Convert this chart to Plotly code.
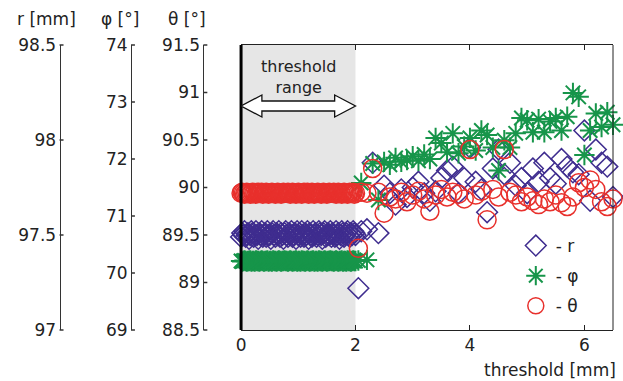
import plotly.graph_objects as go

# ---------------- data ----------------
threshold_range = [0, 2]

thr_band = [0.00, 0.02, 0.04, 0.06, 0.08, 0.10, 0.12, 0.14, 0.16, 0.18,
            0.20, 0.22, 0.24, 0.26, 0.28, 0.30, 0.32, 0.34, 0.36, 0.38,
            0.40, 0.42, 0.44, 0.46, 0.48, 0.50, 0.52, 0.54, 0.56, 0.58,
            0.60, 0.62, 0.64, 0.66, 0.68, 0.70, 0.72, 0.74, 0.76, 0.78,
            0.80, 0.82, 0.84, 0.86, 0.88, 0.90, 0.92, 0.94, 0.96, 0.98,
            1.00, 1.02, 1.04, 1.06, 1.08, 1.10, 1.12, 1.14, 1.16, 1.18,
            1.20, 1.22, 1.24, 1.26, 1.28, 1.30, 1.32, 1.34, 1.36, 1.38,
            1.40, 1.42, 1.44, 1.46, 1.48, 1.50, 1.52, 1.54, 1.56, 1.58,
            1.60, 1.62, 1.64, 1.66, 1.68, 1.70, 1.72, 1.74, 1.76, 1.78,
            1.80, 1.82, 1.84, 1.86, 1.88, 1.90, 1.92, 1.94, 1.96, 1.98, 2.00]
r_band = [97.49, 97.51, 97.50, 97.52, 97.49, 97.50, 97.51, 97.48, 97.50, 97.52,
          97.51, 97.49, 97.50, 97.52, 97.50, 97.48, 97.51, 97.50, 97.52, 97.49,
          97.50, 97.51, 97.49, 97.52, 97.50, 97.50, 97.48, 97.51, 97.52, 97.50,
          97.49, 97.51, 97.50, 97.52, 97.49, 97.51, 97.50, 97.48, 97.51, 97.52,
          97.50, 97.49, 97.51, 97.50, 97.52, 97.49, 97.50, 97.51, 97.48, 97.52,
          97.50, 97.51, 97.49, 97.52, 97.50, 97.49, 97.51, 97.50, 97.52, 97.48,
          97.51, 97.50, 97.49, 97.52, 97.50, 97.51, 97.49, 97.50, 97.52, 97.51,
          97.50, 97.48, 97.51, 97.52, 97.49, 97.50, 97.51, 97.50, 97.52, 97.49,
          97.51, 97.50, 97.49, 97.52, 97.50, 97.51, 97.48, 97.50, 97.52, 97.51,
          97.49, 97.50, 97.51, 97.52, 97.50, 97.49, 97.51, 97.50, 97.52, 97.51, 97.50]
phi_band = [70.21, 70.20, 70.21, 70.22, 70.21, 70.20, 70.21, 70.21, 70.22, 70.20,
            70.21, 70.21, 70.20, 70.22, 70.21, 70.21, 70.20, 70.21, 70.22, 70.21,
            70.20, 70.21, 70.21, 70.22, 70.20, 70.21, 70.21, 70.20, 70.22, 70.21,
            70.21, 70.20, 70.21, 70.22, 70.21, 70.20, 70.21, 70.21, 70.22, 70.21,
            70.21, 70.20, 70.21, 70.22, 70.21, 70.20, 70.21, 70.21, 70.22, 70.20,
            70.21, 70.21, 70.20, 70.22, 70.21, 70.21, 70.20, 70.21, 70.22, 70.21,
            70.20, 70.21, 70.21, 70.22, 70.20, 70.21, 70.21, 70.20, 70.22, 70.21,
            70.21, 70.20, 70.21, 70.22, 70.21, 70.20, 70.21, 70.21, 70.22, 70.21,
            70.21, 70.20, 70.21, 70.22, 70.21, 70.20, 70.21, 70.21, 70.22, 70.20,
            70.21, 70.21, 70.20, 70.22, 70.21, 70.21, 70.20, 70.21, 70.22, 70.21, 70.21]
theta_band = [89.94, 89.95, 89.94, 89.93, 89.94, 89.95, 89.94, 89.94, 89.93, 89.94,
              89.95, 89.94, 89.94, 89.93, 89.94, 89.95, 89.94, 89.94, 89.95, 89.93,
              89.94, 89.94, 89.95, 89.94, 89.93, 89.94, 89.94, 89.95, 89.94, 89.94,
              89.93, 89.94, 89.95, 89.94, 89.94, 89.93, 89.94, 89.95, 89.94, 89.94,
              89.94, 89.95, 89.94, 89.93, 89.94, 89.95, 89.94, 89.94, 89.93, 89.94,
              89.95, 89.94, 89.94, 89.93, 89.94, 89.95, 89.94, 89.94, 89.95, 89.93,
              89.94, 89.94, 89.95, 89.94, 89.93, 89.94, 89.94, 89.95, 89.94, 89.94,
              89.93, 89.94, 89.95, 89.94, 89.94, 89.93, 89.94, 89.95, 89.94, 89.94,
              89.94, 89.95, 89.94, 89.93, 89.94, 89.95, 89.94, 89.94, 89.93, 89.94,
              89.95, 89.94, 89.94, 89.93, 89.94, 89.95, 89.94, 89.94, 89.95, 89.93, 89.94]

thr_after = [2.05, 2.1, 2.2, 2.3, 2.4, 2.5, 2.6, 2.7, 2.8, 2.9,
             3.0, 3.1, 3.2, 3.3, 3.4, 3.5, 3.6, 3.7, 3.8, 3.9,
             4.0, 4.1, 4.2, 4.3, 4.4, 4.5, 4.6, 4.7, 4.8, 4.9,
             5.0, 5.1, 5.2, 5.3, 5.4, 5.5, 5.6, 5.7, 5.8, 5.9,
             6.0, 6.1, 6.2, 6.3, 6.4, 6.5]
r_after = [97.22, 97.52, 97.53, 97.88, 97.51, 97.76, 97.72, 97.66, 97.74, 97.70,
           97.75, 97.78, 97.72, 97.68, 97.73, 97.80, 97.84, 97.86, 97.72, 97.80,
           97.96, 97.78, 97.74, 97.62, 97.85, 97.95, 97.82, 97.88, 97.76, 97.80,
           97.72, 97.85, 97.78, 97.88, 97.80, 97.77, 97.90, 97.86, 97.83, 97.82,
           98.05, 97.68, 97.95, 97.88, 97.86, 97.70]
phi_after = [70.22, 71.58, 70.23, 71.92, 71.28, 71.95, 71.90, 72.02, 71.95, 71.98,
             72.05, 71.97, 72.08, 72.00, 72.37, 72.28, 72.12, 72.45, 72.10, 72.22,
             72.37, 72.15, 72.50, 72.42, 72.20, 71.80, 72.33, 72.20, 72.45, 72.72,
             72.68, 72.47, 72.70, 72.47, 72.66, 72.72, 72.50, 72.74, 73.16, 73.09,
             72.07, 72.50, 72.80, 72.56, 72.82, 72.60]
theta_after = [89.36, 89.95, 89.94, 90.20, 89.95, 89.73, 89.90, 89.88, 89.95, 89.85,
               89.92, 89.96, 89.88, 89.75, 89.92, 89.98, 89.90, 89.95, 89.93, 89.88,
               90.40, 89.92, 89.96, 89.66, 89.98, 89.90, 90.40, 89.95, 89.92, 89.85,
               89.90, 89.86, 89.82, 89.88, 89.85, 89.92, 89.84, 89.80, 89.90, 90.05,
               90.00, 90.08, 89.98, 89.85, 89.80, 89.88]

r_range = [97, 98.5]
phi_range = [69, 74]
theta_range = [88.5, 91.5]
r_ticks = [97, 97.5, 98, 98.5]
phi_ticks = [69, 70, 71, 72, 73, 74]
theta_ticks = [88.5, 89, 89.5, 90, 90.5, 91, 91.5]
x_range = [0, 6.5]
x_ticks = [0, 2, 4, 6]

# ---------------- styling ----------------
PURPLE = "#3f2d8f"
GREEN = "#17954a"
RED = "#e8302c"
TXT = "#222222"
FONT = "DejaVu Sans"

W, H = 623, 381
ML, MR, MT, MB = 0, 10, 45, 51
PW = W - ML - MR
PH = H - MT - MB


def px_x(px):
    return (px - ML) / PW


def px_y(py):
    return (H - MB - py) / PH


fig = go.Figure()
fig.add_trace(go.Scatter(
    x=thr_band + thr_after, y=r_band + r_after, yaxis="y", mode="markers",
    name="- r", legendgroup="r", cliponaxis=False,
    marker=dict(symbol="diamond-open", size=16, color=PURPLE, line=dict(width=1.5, color=PURPLE))))
fig.add_trace(go.Scatter(
    x=thr_band + thr_after, y=phi_band + phi_after, yaxis="y2", mode="markers",
    name="- φ", legendgroup="phi", cliponaxis=False,
    marker=dict(symbol="asterisk-open", size=17, color=GREEN, line=dict(width=2, color=GREEN))))
fig.add_trace(go.Scatter(
    x=thr_band + thr_after, y=theta_band + theta_after, yaxis="y3", mode="markers",
    name="- θ", legendgroup="theta", cliponaxis=False,
    marker=dict(symbol="circle-open", size=18, color=RED, line=dict(width=1.5, color=RED))))

axis_pos = {"y": 55, "y2": 127, "y3": 200}
axis_rng = {"y": r_range, "y2": phi_range, "y3": theta_range}

yax_common = dict(anchor="free", ticks="", showline=True, linecolor="#333", linewidth=1,
                  showgrid=False, zeroline=False,
                  tickfont=dict(family=FONT, size=17, color=TXT), domain=[0, 1])

fig.update_layout(
    width=W, height=H,
    margin=dict(l=ML, r=MR, t=MT, b=MB, pad=0),
    paper_bgcolor="white", plot_bgcolor="white",
    font=dict(family=FONT, size=17, color=TXT),
    xaxis=dict(domain=[px_x(238), 1], range=x_range, tickvals=x_ticks,
               ticks="inside", ticklen=5, tickcolor="#222", showline=True,
               linecolor="#222", linewidth=1, mirror="ticks", showgrid=False,
               zeroline=False, tickfont=dict(family=FONT, size=17, color=TXT)),
    yaxis=dict(position=px_x(axis_pos["y"]), range=r_range, tickvals=r_ticks, **yax_common),
    yaxis2=dict(position=px_x(axis_pos["y2"]), range=phi_range, tickvals=phi_ticks,
                overlaying="y", **yax_common),
    yaxis3=dict(position=px_x(axis_pos["y3"]), range=theta_range, tickvals=theta_ticks,
                overlaying="y", **yax_common),
    showlegend=True,
    legend=dict(x=px_x(515), y=px_y(228), xanchor="left", yanchor="top",
                bgcolor="rgba(0,0,0,0)", font=dict(family=FONT, size=17, color=TXT),
                traceorder="grouped", tracegroupgap=5),
)

# inward tick marks on the three left axes (paper coordinates, so they are not clipped)
for yref, ticks in [("y", r_ticks), ("y2", phi_ticks), ("y3", theta_ticks)]:
    p = px_x(axis_pos[yref])
    lo, hi = axis_rng[yref]
    for tv in ticks:
        yp = (tv - lo) / (hi - lo)
        fig.add_shape(type="line", xref="paper", yref="paper", x0=p, x1=p + 4 / PW,
                      y0=yp, y1=yp, line=dict(color="#333", width=1.5))

# shaded threshold range
fig.add_shape(type="rect", xref="x", yref="paper",
              x0=threshold_range[0], x1=threshold_range[1], y0=0, y1=1,
              fillcolor="#e6e6e6", line=dict(width=0), layer="below")
# frame
fig.add_shape(type="line", xref="x domain", yref="paper", x0=0, x1=0, y0=0, y1=1,
              line=dict(color="black", width=3), layer="above")
fig.add_shape(type="line", xref="x domain", yref="paper", x0=1, x1=1, y0=0, y1=1,
              line=dict(color="#222", width=1), layer="above")

# hollow double arrow spanning the threshold range
x0, x1 = threshold_range
yc = px_y(106)
s = 5 / PH
hh = 11 / PH
hl = 21 / (PW * (1 - px_x(238))) * (x_range[1] - x_range[0])
path = (f"M {x0},{yc} L {x0 + hl},{yc + hh} L {x0 + hl},{yc + s} L {x1 - hl},{yc + s} "
        f"L {x1 - hl},{yc + hh} L {x1},{yc} L {x1 - hl},{yc - hh} L {x1 - hl},{yc - s} "
        f"L {x0 + hl},{yc - s} L {x0 + hl},{yc - hh} Z")
fig.add_shape(type="path", xref="x", yref="paper", path=path,
              fillcolor="white", line=dict(color="#111", width=1.3), layer="above")

fig.add_annotation(x=(x0 + x1) / 2, xref="x", y=px_y(77), yref="paper", yanchor="middle",
                   text="threshold<br>range", showarrow=False,
                   font=dict(family=FONT, size=16, color=TXT))

# axis titles
for txt, cx in [("r [mm]", 42), ("φ [°]", 116), ("θ [°]", 184)]:
    fig.add_annotation(x=px_x(cx), xref="paper", y=px_y(19), yref="paper",
                       text=txt, showarrow=False, xanchor="center", yanchor="middle",
                       font=dict(family=FONT, size=17, color=TXT))
fig.add_annotation(x=px_x(618), xref="paper", y=px_y(370), yref="paper",
                   text="threshold [mm]", showarrow=False, xanchor="right", yanchor="middle",
                   font=dict(family=FONT, size=17, color=TXT))

fig.write_html("out.html")
